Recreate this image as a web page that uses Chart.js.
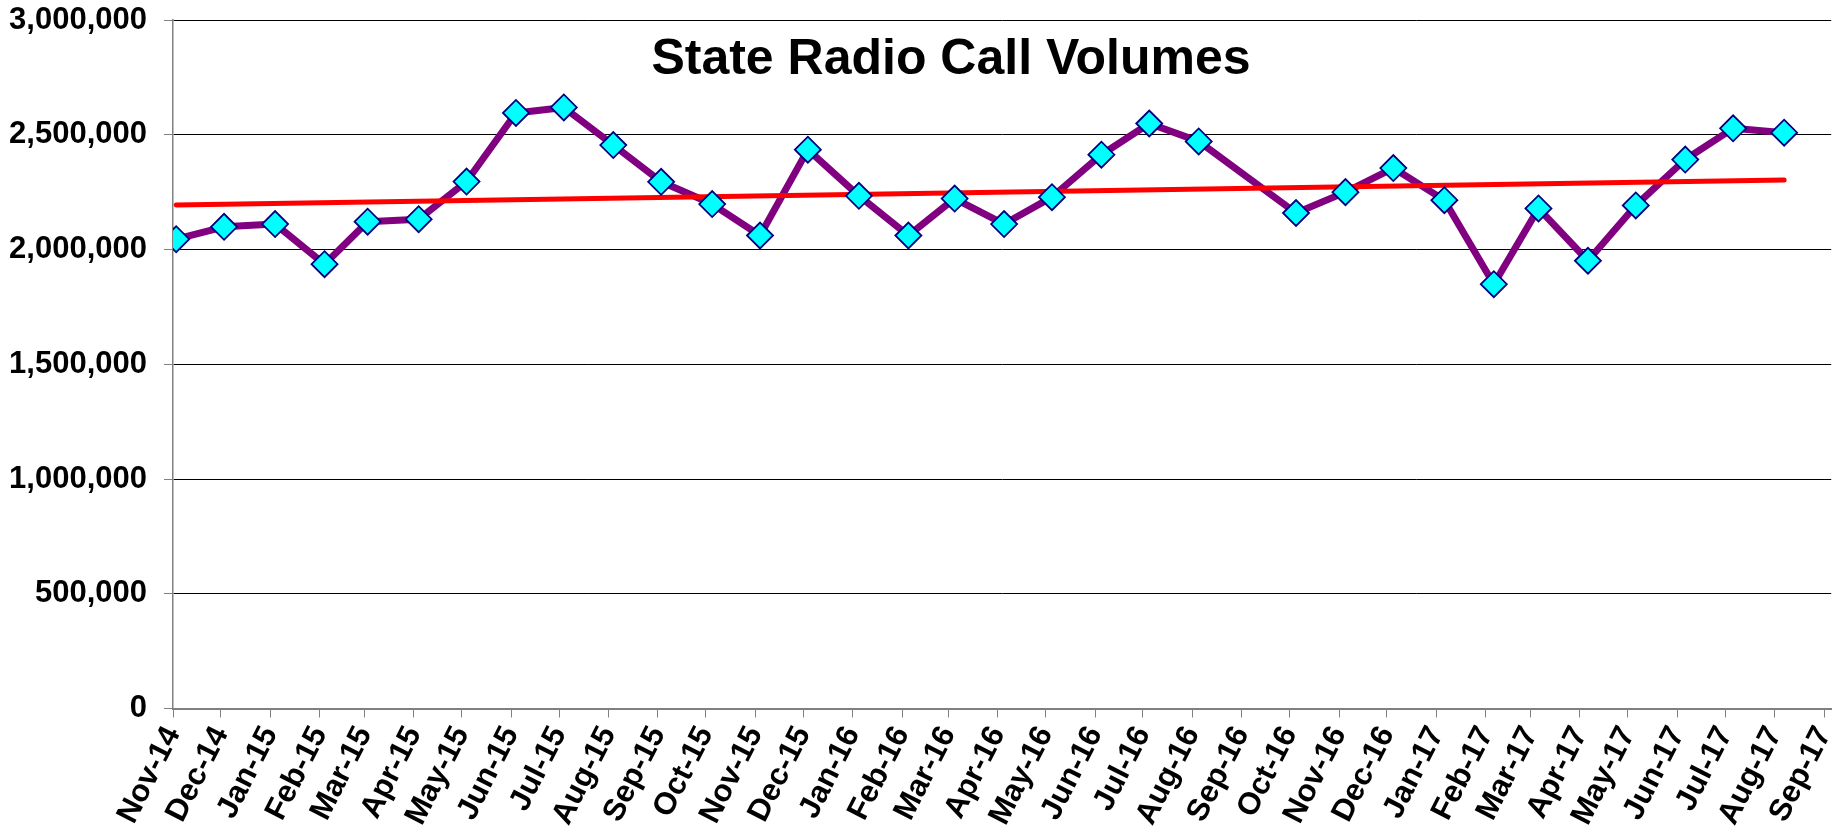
<!DOCTYPE html>
<html>
<head>
<meta charset="utf-8">
<script src="https://cdn.jsdelivr.net/npm/chart.js@4"></script>
<style>
  body { margin: 0; background: #fff; }
  #wrap { width: 1846px; height: 836px; }
</style>
</head>
<body>
<div id="wrap"><canvas id="chart"></canvas></div>
<script>
// readings (date of each report, calls that month)
const pointDates = [
  "2014-11-03", "2014-12-03", "2015-01-04", "2015-02-04", "2015-03-03", "2015-04-04",
  "2015-05-04", "2015-06-04", "2015-07-04", "2015-08-04", "2015-09-03", "2015-10-05",
  "2015-11-04", "2015-12-04", "2016-01-05", "2016-02-05", "2016-03-05", "2016-04-05",
  "2016-05-05", "2016-06-05", "2016-07-05", "2016-08-05", "2016-10-05", "2016-11-05",
  "2016-12-05", "2017-01-06", "2017-02-06", "2017-03-06", "2017-04-06", "2017-05-06",
  "2017-06-06", "2017-07-06", "2017-08-07",
];
const callVolumes = [
  2045000, 2099000, 2111000, 1936000, 2121000, 2132000,
  2296000, 2595000, 2619000, 2455000, 2295000, 2198000,
  2061000, 2435000, 2234000, 2061000, 2222000, 2111000,
  2228000, 2413000, 2549000, 2471000, 2159000, 2250000,
  2355000, 2215000, 1849000, 2179000, 1951000, 2192000,
  2392000, 2528000, 2509000,
];
// trendline ends
const trendValues = [2194000, 2302500];

// month ticks on the date axis
const tickDates = [
  "2014-11-01", "2014-12-01", "2015-01-01", "2015-02-01", "2015-03-01", "2015-04-01",
  "2015-05-01", "2015-06-01", "2015-07-01", "2015-08-01", "2015-09-01", "2015-10-01",
  "2015-11-01", "2015-12-01", "2016-01-01", "2016-02-01", "2016-03-01", "2016-04-01",
  "2016-05-01", "2016-06-01", "2016-07-01", "2016-08-01", "2016-09-01", "2016-10-01",
  "2016-11-01", "2016-12-01", "2017-01-01", "2017-02-01", "2017-03-01", "2017-04-01",
  "2017-05-01", "2017-06-01", "2017-07-01", "2017-08-01", "2017-09-01",
];
const tickLabels = [
  "Nov-14", "Dec-14", "Jan-15", "Feb-15", "Mar-15", "Apr-15",
  "May-15", "Jun-15", "Jul-15", "Aug-15", "Sep-15", "Oct-15",
  "Nov-15", "Dec-15", "Jan-16", "Feb-16", "Mar-16", "Apr-16",
  "May-16", "Jun-16", "Jul-16", "Aug-16", "Sep-16", "Oct-16",
  "Nov-16", "Dec-16", "Jan-17", "Feb-17", "Mar-17", "Apr-17",
  "May-17", "Jun-17", "Jul-17", "Aug-17", "Sep-17",
];

const dayNum = (s) => Date.parse(s + "T00:00:00Z") / 86400000;
const tickDays = tickDates.map(dayNum);

const seriesPts = pointDates.map((d, i) => ({ x: dayNum(d), y: callVolumes[i] }));
const trendPts = [
  { x: dayNum(pointDates[0]), y: trendValues[0] },
  { x: dayNum(pointDates[pointDates.length - 1]), y: trendValues[1] },
];

const FONT = "'Liberation Sans', Arial, sans-serif";

const titlePlugin = {
  id: "floatTitle",
  afterDraw(chart) {
    const ctx = chart.ctx;
    ctx.save();
    ctx.font = "bold 50px " + FONT;
    ctx.fillStyle = "#000";
    ctx.textAlign = "center";
    ctx.textBaseline = "alphabetic";
    ctx.fillText("State Radio Call Volumes", 951, 74);
    ctx.restore();
  },
};

const ctx = document.getElementById("chart").getContext("2d");

new Chart(ctx, {
  type: "line",
  data: {
    datasets: [
      {
        label: "Calls",
        data: seriesPts,
        borderColor: "#800080",
        borderWidth: 7,
        borderJoinStyle: "round",
        tension: 0,
        pointRadius: 0,
        order: 3,
      },
      {
        label: "Trend",
        data: trendPts,
        borderColor: "#ff0000",
        borderWidth: 5,
        borderCapStyle: "round",
        pointRadius: 0,
        order: 2,
      },
      {
        label: "Markers",
        data: seriesPts,
        showLine: false,
        pointStyle: "rectRot",
        pointRadius: 13,
        pointBackgroundColor: "#00ffff",
        pointBorderColor: "#000080",
        pointBorderWidth: 1.8,
        order: 1,
      },
    ],
  },
  options: {
    responsive: true,
    maintainAspectRatio: false,
    animation: false,
    layout: { padding: { top: 20, right: 13, left: 0, bottom: 0 } },
    plugins: {
      legend: { display: false },
      tooltip: { enabled: false },
    },
    scales: {
      x: {
        type: "linear",
        min: tickDays[0],
        max: tickDays[tickDays.length - 1] + 4.5,
        afterBuildTicks(scale) {
          scale.ticks = tickDays.map((v) => ({ value: v }));
        },
        afterFit(scale) {
          scale.height = 127.5;
          scale.paddingLeft = 0;
          scale.paddingRight = 0;
        },
        grid: {
          drawOnChartArea: false,
          drawTicks: true,
          tickLength: 9,
          tickColor: "#808080",
        },
        border: { color: "#808080", width: 2 },
        ticks: {
          autoSkip: false,
          minRotation: 63,
          maxRotation: 63,
          padding: 3,
          color: "#000",
          font: { family: FONT, size: 31, weight: "bold" },
          callback(value) {
            const i = tickDays.indexOf(value);
            return i >= 0 ? tickLabels[i] : "";
          },
        },
      },
      y: {
        min: 0,
        max: 3000000,
        afterFit(scale) {
          scale.width = 173;
          scale.paddingTop = 0;
          scale.paddingBottom = 0;
        },
        grid: {
          color: "#000",
          lineWidth: 1,
          tickLength: 9,
          tickColor: "#808080",
        },
        border: { color: "#808080", width: 1.5 },
        ticks: {
          stepSize: 500000,
          padding: 17,
          color: "#000",
          font: { family: FONT, size: 31, weight: "bold" },
          callback: (v) => v.toLocaleString("en-US"),
        },
      },
    },
  },
  plugins: [titlePlugin],
});
</script>
</body>
</html>
